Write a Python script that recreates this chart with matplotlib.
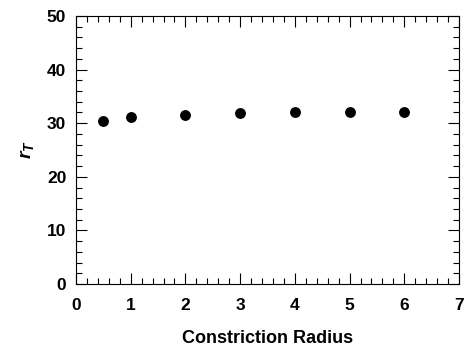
import matplotlib.pyplot as plt
from matplotlib.ticker import MultipleLocator

plt.rcParams['font.family'] = ['Liberation Sans', 'DejaVu Sans']
plt.rcParams['font.weight'] = 'bold'
plt.rcParams['mathtext.fontset'] = 'custom'
plt.rcParams['mathtext.it'] = 'Liberation Sans:italic'
plt.rcParams['mathtext.rm'] = 'Liberation Sans'

radius = [0.5, 1, 2, 3, 4, 5, 6]
r_T = [30.5, 31.1, 31.5, 31.9, 32.1, 32.0, 32.0]

fig = plt.figure(figsize=(4.66, 3.5), dpi=100)
ax = fig.add_axes([76/466, 1 - 284/350, (459-76)/466, (284-16)/350])

ax.plot(radius, r_T, 'o', color='black', markersize=6.8)

ax.set_xlim(0, 7)
ax.set_ylim(0, 50)
ax.xaxis.set_major_locator(MultipleLocator(1))
ax.xaxis.set_minor_locator(MultipleLocator(0.2))
ax.yaxis.set_major_locator(MultipleLocator(10))
ax.yaxis.set_minor_locator(MultipleLocator(2))
ax.tick_params(which='both', direction='in', top=True, right=True, labelsize=12.5, width=0.8)
ax.tick_params(which='major', length=8)
ax.tick_params(which='minor', length=4)
ax.tick_params(axis='x', which='major', pad=10)
ax.tick_params(axis='y', which='major', pad=7)
for s in ax.spines.values():
    s.set_linewidth(0.8)

ax.set_xlabel('Constriction Radius', fontsize=13, fontweight='bold', labelpad=12)
ax.set_ylabel(r'$r_T$', fontsize=14, labelpad=8)

fig.savefig('out.png', dpi=100)
